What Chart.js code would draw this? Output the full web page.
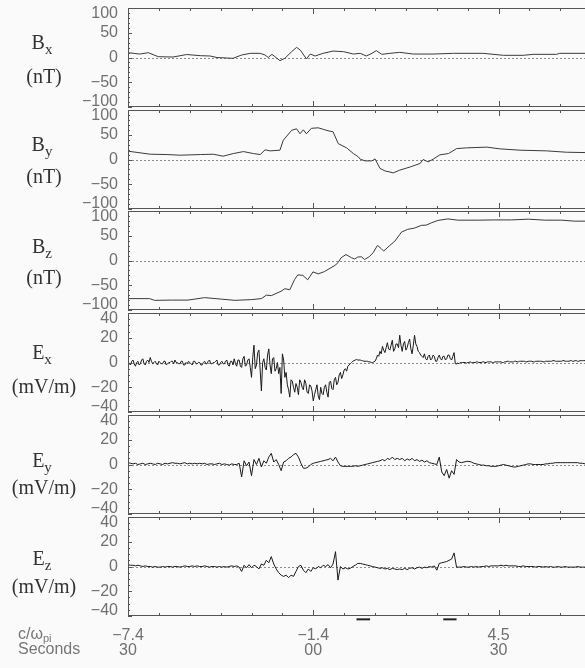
<!DOCTYPE html>
<html>
<head>
<meta charset="utf-8">
<script src="https://cdn.jsdelivr.net/npm/chart.js@4.4.1/dist/chart.umd.min.js"></script>
<style>
  body { margin: 0; background: #fafafa; }
  #wrap { position: relative; width: 585px; height: 668px; overflow: hidden; background: #fafafa; }
  canvas { position: absolute; left: 0; }
  .ttl { position: absolute; left: -1px; width: 90px; text-align: center; white-space: nowrap;
         font-family: "Liberation Serif", "Times New Roman", serif; font-size: 20px; line-height: 20px; color: #333; }
  .ttl .s { font-size: 15px; position: relative; top: 5px; }
  .bl { position: absolute; left: 18px; white-space: nowrap;
        font-family: "Liberation Sans", Arial, sans-serif; font-size: 16px; line-height: 16px; color: #777; }
  .bl .s { font-size: 11px; position: relative; top: 3px; }
</style>
</head>
<body>
<div id="wrap">
  <canvas id="p0" width="585" height="119"></canvas>
  <canvas id="p1" width="585" height="119"></canvas>
  <canvas id="p2" width="585" height="119"></canvas>
  <canvas id="p3" width="585" height="119"></canvas>
  <canvas id="p4" width="585" height="119"></canvas>
  <canvas id="p5" width="585" height="159"></canvas>

  <div class="ttl" style="top:32px; left:-3px">B<span class="s">x</span></div>
  <div class="ttl" style="top:66px">(nT)</div>
  <div class="ttl" style="top:134px; left:-3px">B<span class="s">y</span></div>
  <div class="ttl" style="top:166px">(nT)</div>
  <div class="ttl" style="top:236px; left:-3px">B<span class="s">z</span></div>
  <div class="ttl" style="top:267px">(nT)</div>
  <div class="ttl" style="top:342px; left:-3px">E<span class="s">x</span></div>
  <div class="ttl" style="top:376px">(mV/m)</div>
  <div class="ttl" style="top:450px; left:-3px">E<span class="s">y</span></div>
  <div class="ttl" style="top:477px">(mV/m)</div>
  <div class="ttl" style="top:548px; left:-3px">E<span class="s">z</span></div>
  <div class="ttl" style="top:576px">(mV/m)</div>

  <div class="bl" style="top:626px">c/ω<span class="s">pi</span></div>
  <div class="bl" style="top:641px">Seconds</div>
</div>

<script>
// ---- data (time in seconds from the left edge, values in nT or mV/m) ----

const xMajor = [0, 30, 60];
const xMinorStep = 5;
const xLabelC = ['−7.4', '−1.4', '4.5'];
const xLabelSec = ['30', '00', '30'];

const bTicks = [-100, -50, 0, 50, 100];
const eTicks = [-40, -20, 0, 20, 40];

const bxData = [[0,9.7],[1.9,7],[3.3,9.7],[4.9,1.6],[7.3,1],[9.5,6],[11.7,3.7],[13.3,3],[14.4,0],[17.0,-1.7],
  [18.4,5],[19.8,8.4],[21.4,8.4],[22.2,5],[22.7,0],[23.3,6.4],[23.8,1.7],[24.6,-6.4],[25.4,-1.7],[26.5,11.8],
  [27.3,20.5],[27.9,15],[28.9,-3],[29.5,7],[30.3,3],[31.6,8.4],[33.2,13],[34.9,11.8],[36.5,7],[37.6,8.4],
  [38.6,3],[39.5,8.4],[40.2,13.8],[41.1,6.4],[42.4,8.4],[44.0,10.4],[46.2,7],[49.4,7],[52.7,8.4],[57.5,8.4],
  [60.8,4.4],[64.0,4.4],[65.6,6.4],[69.4,6.4],[69.9,8.4],[74,8.4]];

const byData = [[0,16.8],[3.6,10.7],[6.3,10],[8.4,8.7],[11.7,10],[13.8,10.7],[15.4,6.7],[17.05,12],[18.7,16],[20.3,12],
  [21.4,10],[22.2,19.5],[23.0,17.4],[24.6,18.8],[25.15,39],[26.5,59],[27.3,62],[27.85,52],[28.4,60],[28.9,52],
  [29.7,63],[30.8,64],[31.6,61],[32.4,58],[33.2,56],[34.05,32],[35.4,23.5],[36.5,12],[37.3,5.3],[37.6,0.6],
  [38.4,-2.8],[39.5,-2.8],[40.0,1.3],[40.8,-18],[41.6,-23],[42.96,-27],[44.0,-21.5],[45.7,-15],[47.3,-8],[47.8,0],
  [48.6,-4.8],[49.4,0.6],[50.5,9.4],[51.9,12],[53.2,22],[54.8,23.5],[58.1,25],[60.2,21.5],[63.5,18.8],[67.8,17.4],
  [71.0,14.7],[74,14]];

const bzData = [[0,-77],[3.5,-77],[4.3,-80.5],[7.0,-80],[9.7,-80],[12.4,-75],[15.1,-78],[17.3,-80.5],[20.0,-79],[21.6,-77],
  [22.4,-70],[23.2,-71],[24.8,-62],[25.4,-57],[26.2,-59],[27.0,-38],[27.5,-29],[28.3,-30],[29.1,-39],[29.95,-23],
  [30.8,-27],[31.8,-22.5],[32.4,-18],[33.5,-10],[34.0,-4.5],[34.5,5.5],[35.3,12],[36.2,5.5],[36.7,3],[37.2,7],
  [37.8,7.5],[38.3,2],[39.1,8],[39.7,16],[40.4,30.5],[41.0,24],[41.4,19],[42.4,30.5],[43.2,39],[44.3,57.5],
  [45.3,63],[46.4,65.5],[47.5,71],[48.3,71.5],[49.1,76],[50.2,81],[51.8,84],[53.4,81.5],[56.7,81.5],[59.4,82],
  [62.1,82],[64.8,83.5],[67.5,81.5],[70.2,81.5],[72.3,79.5],[74,79.5]];

// Ex sampled every 0.2 s, t = 0 ... 74 (one row = 4 s)
const exStep = 0.2;
const exValues = [
  1, -1, -2, 1, 2, -1, -3, 0, 1, -2, -1, 2, 3, -1, -2, 1, 2, 0, 4, 1,
  -1, 0, 1, -1, -2, 1, 0, -1, -1, 1, 1, -2, -1, 0, 0, 1, 1, -1, 2, 0,
  0, -1, -1, 1, 1, -2, -2, 0, -1, 1, 0, -1, -2, 1, 1, -1, -1, 0, 0, -2,
  -2, 0, 1, -1, -1, 1, 2, -1, -1, 0, 0, 1, 2, -2, -2, 0, 1, -1, -1, 1,
  2, -2, -3, 1, 1, -2, 3, -1, -3, 2, 2, -3, -4, 3, 5, -3, -2, 2, 3, -4,
  -12, 4, 14, -5, -2, 8, 10, -6, -23, 0, 3, -4, -6, 6, 11, -2, -9, 3, 4, -7,
  -5, 0, -9, -4, -25, 7, 2, -12, -8, -18, -22, -28, -14, -15, -20, -24, -17, -20, -26, -14,
  -16, -20, -22, -14, -17, -24, -25, -18, -19, -23, -31, -26, -22, -18, -27, -30, -20, -25, -26, -20,
  -18, -24, -28, -16, -15, -21, -22, -14, -12, -18, -16, -10, -8, -13, -10, -6, -5, -7, -3, -2,
  -1, 0, 1, 1.5, 2, 2.5, 2, 2, 2, 1.5, 1.5, 1, 1, 1, 1, 0.5, 0.5, 0, 0, 0.5,
  1, 3, 6, 5, 9, 7, 13, 10, 8, 12, 16, 11, 10, 14, 18, 9, 11, 15, 15, 12,
  22, 14, 9, 15, 17, 10, 12, 16, 19, 11, 7, 14, 22, 15, 13, 9, 8, 6, 5, 4,
  7, 3, 2, 5, 6, 2, 3, 6, 5, 1, 1, 4, 6, 3, 2, 5, 5, 2, 3, 6,
  6, 3, 2, 5, 8, -1, -1, -0.5, -1, 0, 0, 0, 0, 0, -0.5, 0, 0, 0.5, 0, 0,
  0, 0, 0.5, 0.5, 0, 0, 0, 0.5, 0.5, 0, 0, 0.5, 0.5, 0.5, 0.5, 0, 0, 0.5, 0.5, 0.5,
  0.5, 0.5, 0.5, 0, 0, 0.5, 0.5, 1, 1, 0.5, 0.5, 0.5, 0.5, 1, 1, 0.5, 0.5, 1, 1, 1,
  1, 1, 0.5, 0.5, 1, 1, 1, 1, 0.5, 0.5, 1, 1, 1, 1, 1, 1, 0.5, 0.5, 1, 1,
  1, 1, 1, 1, 1.5, 1.5, 1, 1, 1, 1, 1, 1, 1.5, 1.5, 1, 1, 1, 1, 1.5, 1.5,
  1, 1, 1.5, 1.5, 1, 1, 1.5, 1.5, 1.5, 1.5, 1.5];

// Ey, Ez sampled every 0.4 s, t = 0 ... 74 (one row = 4 s)
const eStep = 0.4;
const eyValues = [
  1.5, 1, 0.5, 1, 0, 0.5, 1, 0, 0.5, 1,
  0.5, 0, 1, 0.5, 0, 1, 0.5, 1, 1.5, 1,
  1, 0.5, 1, 1.5, 0.5, 1, 0.5, 1, 0.5, 1,
  0.5, 1, 0, 0.5, 0.5, 0, 0.5, 1, 0, 0.5,
  0, -0.5, 0.5, 0, 0, 1, -10, 3, -1, 2,
  -9, 4, 0, 5, -2, 3, 1, 6, 9, 2,
  4, 0, -5, 2, 3, 5, 6, 8, 9, 6,
  1, -3, -3, -2, 0, 1, 1.5, 2, 2.5, 3,
  3.5, 4, 5, 3, 6, 2, -1, -1.5, -1.5, -1.5,
  -1.5, -1.5, -1, -1.5, -1, -0.5, 0, 0.5, 1, 1.5,
  2, 2.5, 3, 4, 3, 5, 4, 6, 4, 5,
  4, 5, 3, 4.5, 3.5, 5, 3, 4, 2.5, 3.5,
  2, 3, 1.5, 1, 0.5, 0, 6, -6, -9, -4,
  -11, -5, -8, 4, 2, 1.5, 2, 2.5, 2.5, 2,
  1, 0.5, 0, -0.5, -0.5, -1, -1, -1.5, -1.5, -1.5,
  -1, -0.5, 0, -0.5, -1, -1.5, -2, -2, -1.5, -1,
  -0.5, 0, 0.5, 0.5, 0, 0, 0, 0, 0, 0.5,
  0.5, 1, 1, 1.5, 1.5, 1.5, 1.5, 1.5, 1.5, 1.5,
  1.5, 1.5, 1.5, 1, 1, 0.5];

const ezValues = [
  1.5, 1, 1, 0.5, 1, 0.5, 0, 0.5, 0, 0,
  -0.5, 0, -0.5, -0.5, 0, -0.5, 0, 0, -0.5, 0,
  0, -0.5, 0, 0.5, 0, 0, 0.5, 0, 0.5, 0,
  0, 0.5, 0, -0.5, 0, 0, -0.5, 0, -0.5, 0,
  -0.5, 0, 0.5, 0, 0.5, -0.5, -4, 1, -1, 1.5,
  -1, 1, 0, -2, 2, 1, 5, 3, 8, 2,
  -2, -5, -7, -8, -7, -9, -7, -8, -4, 0,
  1, -3, -5, -2, -4, -1, -2, 0, -1, 1,
  0, 1.5, -1, 2, 12, -11, 0, -2, -1, -2,
  -1.5, 0, 1, 2.5, 2.5, 2, 1.5, 1, 0.5, 0,
  -0.5, -1, -1.5, -1, -2, -1.5, -2.5, -1.5, -2, -2.5,
  -2, -2.5, -1.5, -2.5, -1.5, -1, -2, -1, -0.5, -1.5,
  -0.5, -1, 0, -0.5, 0.5, -3, 2.5, 3, 3.5, 4,
  5, 6, 11, -0.5, -0.5, -0.5, 0, -0.5, -0.5, 0,
  -0.5, 0, -0.5, 0, 0, 0.5, 0, 0.5, 0.5, 0.5,
  0.5, 1, 0.5, 1, 0.5, 0.5, 0.5, 0.5, 0, 0,
  0.5, 0, 0, 0, 0, -0.5, 0, 0, -0.5, 0,
  -0.5, 0, -0.5, -0.5, 0, -0.5, -0.5, 0, -0.5, -0.5,
  -0.5, -0.5, 0, -0.5, -0.5, -0.5];

// small event bars under the bottom axis
const markSpans = [[37.0, 39.2], [51.05, 53.2]];
const markLevel = -42.7;

// ---- layout ----
const panelTops = [8, 110, 211, 313, 415, 517];
const panelH = 99;
const pad = 10;

const pairsToPts = arr => arr.map(p => ({ x: p[0], y: p[1] }));
const seriesToPts = (arr, step) => arr.map((v, i) => ({ x: +(i * step).toFixed(1), y: v }));
const fmt = v => String(v).replace('-', '−');

const panelFrame = {
  id: 'panelFrame',
  beforeDatasetsDraw(chart, args, o) {
    const { ctx, chartArea: a, scales: { y } } = chart;
    const y0 = Math.round(y.getPixelForValue(0)) + 0.5;
    ctx.save();
    ctx.strokeStyle = '#8c8c8c';
    ctx.lineWidth = 1;
    ctx.setLineDash([2, 2]);
    ctx.beginPath();
    ctx.moveTo(a.left, y0);
    ctx.lineTo(a.right, y0);
    ctx.stroke();
    ctx.restore();
  },
  afterDatasetsDraw(chart, args, o) {
    const { ctx, chartArea: a, scales: { x, y } } = chart;
    const top = a.top + 0.5, bot = a.bottom - 0.5, left = a.left + 0.5;
    ctx.save();
    ctx.strokeStyle = '#555';
    ctx.lineWidth = 1;
    ctx.beginPath();
    ctx.moveTo(a.left, top); ctx.lineTo(a.right, top);
    ctx.moveTo(a.left, bot); ctx.lineTo(a.right, bot);
    ctx.moveTo(left, a.top); ctx.lineTo(left, a.bottom);
    // x ticks, inward from top and bottom
    for (let t = 0; t <= x.max; t += xMinorStep) {
      const len = xMajor.includes(t) ? 6 : 3;
      const px = Math.round(x.getPixelForValue(t)) + 0.5;
      ctx.moveTo(px, a.top); ctx.lineTo(px, a.top + len);
      ctx.moveTo(px, a.bottom); ctx.lineTo(px, a.bottom - len);
    }
    // y ticks, inward from left
    for (let v = y.min; v <= y.max + 1e-9; v += o.minorStep) {
      const len = o.major.includes(v) ? 4 : 2;
      const py = Math.round(y.getPixelForValue(v)) + 0.5;
      ctx.moveTo(a.left, py); ctx.lineTo(a.left + len, py);
    }
    ctx.stroke();

    // y tick labels, kept inside the panel like the original
    ctx.fillStyle = '#707070';
    ctx.font = '16px "Liberation Sans", Arial, sans-serif';
    ctx.textAlign = 'right';
    ctx.textBaseline = 'middle';
    o.major.forEach(v => {
      let py = y.getPixelForValue(v);
      py = Math.max(a.top + 6, Math.min(a.bottom - 5, py));
      ctx.fillText(fmt(v), a.left - 10, py);
    });

    if (o.bottomLabels) {
      ctx.textAlign = 'center';
      ctx.textBaseline = 'alphabetic';
      xMajor.forEach((t, i) => {
        const px = x.getPixelForValue(t);
        ctx.fillText(xLabelC[i], px, a.bottom + 24);
        ctx.fillText(xLabelSec[i], px, a.bottom + 39);
      });
    }
    ctx.restore();
  }
};

function makePanel(idx, points, lim, major, minorStep, color, extra) {
  const cv = document.getElementById('p' + idx);
  cv.style.top = (panelTops[idx] - pad) + 'px';
  const bottomPad = cv.height - pad - panelH;
  const datasets = [{
    data: points, borderColor: color, borderWidth: 1, pointRadius: 0, tension: 0
  }].concat(extra || []);
  return new Chart(cv, {
    type: 'line',
    data: { datasets },
    options: {
      responsive: false,
      animation: false,
      events: [],
      layout: { padding: { left: 128, right: 0, top: pad, bottom: bottomPad } },
      scales: {
        x: { type: 'linear', min: 0, max: 74, display: false },
        y: { min: -lim, max: lim, display: false }
      },
      plugins: {
        legend: { display: false },
        tooltip: { enabled: false },
        panelFrame: { major, minorStep, bottomLabels: idx === 5 }
      }
    },
    plugins: [panelFrame]
  });
}

const marks = markSpans.map(s => ({
  data: [{ x: s[0], y: markLevel }, { x: s[1], y: markLevel }],
  borderColor: '#222', borderWidth: 2, pointRadius: 0, clip: false
}));

makePanel(0, pairsToPts(bxData), 100, bTicks, 10, '#3a3a3a');
makePanel(1, pairsToPts(byData), 100, bTicks, 10, '#3a3a3a');
makePanel(2, pairsToPts(bzData), 100, bTicks, 10, '#3a3a3a');
makePanel(3, seriesToPts(exValues, exStep), 40, eTicks, 5, '#1a1a1a');
makePanel(4, seriesToPts(eyValues, eStep), 40, eTicks, 5, '#1a1a1a');
makePanel(5, seriesToPts(ezValues, eStep), 40, eTicks, 5, '#1a1a1a', marks);
</script>
</body>
</html>
